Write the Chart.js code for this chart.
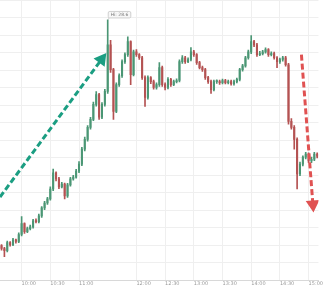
<!DOCTYPE html>
<html>
<head>
<meta charset="utf-8">
<script src="https://cdn.jsdelivr.net/npm/chart.js@4.4.0/dist/chart.umd.min.js"></script>
<style>
  html, body { margin: 0; padding: 0; background: #fff; }
  .chart-box { width: 324px; height: 288px; }
</style>
</head>
<body>
<div class="chart-box"><canvas id="chart"></canvas></div>
<script>
// 3-minute candles, first one at 09:39 (minutes after midnight)
const firstCandle = 579;
const candleStep = 3;

const opens = [
  22.15, 22.07, 22.01, 22.24, 22.18, 22.32, 22.27, 22.47, 22.78, 22.55,
  22.64, 22.69, 22.86, 22.84, 23.00, 23.23, 23.37, 23.49, 23.77, 24.23,
  24.06, 23.83, 23.91, 23.57, 23.89, 24.06, 24.11, 24.28, 24.48, 24.91,
  25.19, 25.53, 25.76, 26.19, 26.47, 25.82, 26.19, 26.56, 27.89, 27.18,
  25.99, 26.75, 27.01, 27.41, 27.61, 27.98, 27.04, 27.69, 27.61, 27.52,
  26.95, 26.39, 26.95, 26.84, 26.67, 26.75, 27.24, 26.75, 26.67, 26.90,
  26.75, 26.84, 26.87, 27.41, 27.52, 27.41, 27.47, 27.69, 27.61, 27.38,
  27.24, 27.18, 26.95, 26.84, 26.61, 26.84, 26.84, 26.81, 26.87, 26.81,
  26.84, 26.78, 26.84, 26.90, 27.18, 27.29, 27.52, 27.69, 27.98, 27.89,
  27.61, 27.64, 27.69, 27.75, 27.61, 27.64, 27.52, 27.41, 27.47, 27.52,
  27.32, 25.70, 25.53, 25.19, 24.20, 24.48, 24.68, 24.77, 24.57, 24.62,
  24.77
];
const highs = [
  22.18, 22.10, 22.28, 22.27, 22.36, 22.34, 22.52, 22.98, 22.80, 22.68,
  22.74, 22.90, 22.92, 23.05, 23.27, 23.42, 23.53, 23.83, 24.34, 24.26,
  24.10, 23.96, 23.94, 23.93, 24.10, 24.16, 24.33, 24.55, 24.96, 25.25,
  25.58, 25.82, 26.25, 26.55, 26.50, 26.24, 26.62, 28.60, 28.02, 27.22,
  26.80, 27.06, 27.46, 27.66, 28.12, 28.00, 27.74, 27.75, 27.64, 27.56,
  27.00, 27.00, 26.98, 26.88, 26.80, 27.38, 27.28, 26.80, 26.95, 26.93,
  26.88, 26.92, 27.46, 27.58, 27.56, 27.52, 27.81, 27.73, 27.64, 27.42,
  27.28, 27.22, 26.99, 26.88, 26.88, 26.89, 26.88, 26.91, 26.90, 26.88,
  26.88, 26.88, 26.94, 27.22, 27.33, 27.56, 27.74, 28.15, 28.02, 27.93,
  27.70, 27.73, 27.80, 27.78, 27.69, 27.68, 27.55, 27.51, 27.56, 27.56,
  27.36, 25.78, 25.58, 25.23, 24.54, 24.72, 24.82, 24.80, 24.68, 24.82,
  24.80
];
const lows = [
  22.02, 21.84, 21.97, 22.14, 22.15, 22.22, 22.24, 22.43, 22.50, 22.52,
  22.60, 22.65, 22.80, 22.80, 22.96, 23.18, 23.33, 23.45, 23.72, 24.00,
  23.78, 23.80, 23.49, 23.53, 23.85, 24.02, 24.08, 24.24, 24.44, 24.86,
  25.14, 25.48, 25.72, 26.14, 25.76, 25.78, 26.14, 26.50, 27.10, 25.76,
  25.95, 26.70, 26.96, 27.36, 27.56, 26.75, 27.00, 27.56, 27.47, 26.90,
  26.13, 26.34, 26.78, 26.62, 26.62, 26.70, 26.70, 26.60, 26.63, 26.70,
  26.72, 26.80, 26.83, 27.36, 27.36, 27.38, 27.43, 27.56, 27.33, 27.20,
  27.13, 26.90, 26.79, 26.50, 26.57, 26.79, 26.76, 26.77, 26.77, 26.77,
  26.74, 26.74, 26.80, 26.86, 27.14, 27.25, 27.48, 27.64, 27.84, 27.56,
  27.58, 27.60, 27.65, 27.56, 27.57, 27.48, 27.24, 27.36, 27.42, 27.28,
  25.62, 25.48, 24.91, 23.77, 24.15, 24.43, 24.63, 24.52, 24.52, 24.58,
  24.66
];
const closes = [
  22.07, 22.01, 22.24, 22.18, 22.32, 22.27, 22.47, 22.78, 22.55, 22.64,
  22.69, 22.86, 22.84, 23.00, 23.23, 23.37, 23.49, 23.77, 24.23, 24.06,
  23.83, 23.91, 23.57, 23.89, 24.06, 24.11, 24.28, 24.48, 24.91, 25.19,
  25.53, 25.76, 26.19, 26.47, 25.82, 26.19, 26.56, 27.89, 27.18, 25.99,
  26.75, 27.01, 27.41, 27.61, 27.98, 27.04, 27.69, 27.61, 27.52, 26.95,
  26.39, 26.95, 26.84, 26.67, 26.75, 27.24, 26.75, 26.67, 26.90, 26.75,
  26.84, 26.87, 27.41, 27.52, 27.41, 27.47, 27.69, 27.61, 27.38, 27.24,
  27.18, 26.95, 26.84, 26.61, 26.84, 26.84, 26.81, 26.87, 26.81, 26.84,
  26.78, 26.84, 26.90, 27.18, 27.29, 27.52, 27.69, 27.98, 27.89, 27.61,
  27.64, 27.69, 27.75, 27.61, 27.64, 27.52, 27.41, 27.47, 27.52, 27.32,
  25.70, 25.53, 25.19, 24.20, 24.48, 24.68, 24.77, 24.57, 24.62, 24.77,
  24.71
];

const tickTimes = [600, 630, 660, 720, 750, 780, 810, 840, 870, 900];
const tickLabels = ["10:00", "10:30", "11:00", "12:00", "12:30", "13:00", "13:30", "14:00", "14:30", "15:00"];

// annotation arrows: [time, price] start and head
const upArrow = [[577.4, 23.54], [683.5, 27.47]];
const downArrow = [[892.5, 27.61], [904.5, 23.33]];

const UP = "#4a9674";
const DOWN = "#b45252";

const times = closes.map(function(c, i) { return firstCandle + i * candleStep; });
const candleColors = closes.map(function(c, i) { return c >= opens[i] ? UP : DOWN; });

const hiIndex = highs.indexOf(Math.max.apply(null, highs));

const hiLabel = {
  id: "hiLabel",
  afterDatasetsDraw(chart) {
    const ctx = chart.ctx;
    const px = chart.scales.x.getPixelForValue(times[hiIndex]);
    const py = chart.scales.y.getPixelForValue(highs[hiIndex]);
    const text = "Hi: " + highs[hiIndex].toFixed(1);
    ctx.save();
    ctx.font = "4.5px 'DejaVu Sans'";
    const w = ctx.measureText(text).width + 5;
    const bx = px + 0.5, by = py - 8.5, bh = 6.5;
    ctx.strokeStyle = "#bdbdbd";
    ctx.lineWidth = 0.7;
    ctx.beginPath();
    ctx.moveTo(px + 1.5, by + bh);
    ctx.lineTo(px, py);
    ctx.stroke();
    ctx.fillStyle = "#f7f7f7";
    ctx.beginPath();
    ctx.roundRect(bx, by, w, bh, 1.5);
    ctx.fill();
    ctx.stroke();
    ctx.fillStyle = "#777";
    ctx.textBaseline = "middle";
    ctx.fillText(text, bx + 2.5, by + bh / 2 + 0.3);
    ctx.restore();
  }
};

function arrowData(pts) {
  return pts.map(function(p) { return { x: p[0], y: p[1] }; });
}

new Chart(document.getElementById("chart"), {
  data: {
    datasets: [
      {
        type: "line",
        data: arrowData(upArrow),
        borderColor: "#1b9e82",
        backgroundColor: "#1b9e82",
        borderWidth: 3,
        borderDash: [6, 3],
        pointStyle: "triangle",
        pointRadius: [0, 5],
        rotation: [0, 37],
        clip: false,
        order: 0
      },
      {
        type: "line",
        data: arrowData(downArrow),
        borderColor: "#e05252",
        backgroundColor: "#e05252",
        borderWidth: 3,
        borderDash: [6, 3],
        pointStyle: "triangle",
        pointRadius: [0, 5],
        rotation: [0, 176],
        order: 0
      },
      {
        type: "bar",
        data: times.map(function(t, i) { return { x: t, y: [lows[i], highs[i]] }; }),
        backgroundColor: candleColors,
        barThickness: 1,
        grouped: false,
        order: 2
      },
      {
        type: "bar",
        data: times.map(function(t, i) { return { x: t, y: [opens[i], closes[i]] }; }),
        backgroundColor: candleColors,
        barThickness: 1.4,
        minBarLength: 1,
        grouped: false,
        order: 1
      }
    ]
  },
  options: {
    responsive: true,
    maintainAspectRatio: false,
    animation: false,
    layout: { padding: 0, autoPadding: false },
    plugins: { legend: { display: false }, tooltip: { enabled: false } },
    scales: {
      x: {
        type: "linear",
        offset: false,
        min: 577.4,
        max: 910.3,
        afterBuildTicks(axis) {
          axis.ticks = tickTimes.map(function(v) { return { value: v }; });
        },
        ticks: {
          autoSkip: false,
          maxRotation: 0,
          align: "start",
          padding: 1,
          color: "#9a9a9a",
          font: { size: 5, family: "'DejaVu Sans'" },
          callback: function(v) { return tickLabels[tickTimes.indexOf(v)]; }
        },
        grid: { color: "#efefef", drawTicks: false, offset: false },
        border: { color: "#d8d8d8" }
      },
      y: {
        min: 21.17,
        max: 29.17,
        afterBuildTicks(axis) {
          const t = [];
          for (let k = 0; k <= 16; k++) t.push({ value: 21.17 + k * 0.5 });
          axis.ticks = t;
        },
        ticks: { display: false },
        grid: { color: "#efefef", drawTicks: false },
        border: { display: false }
      }
    }
  },
  plugins: [hiLabel]
});
</script>
</body>
</html>
